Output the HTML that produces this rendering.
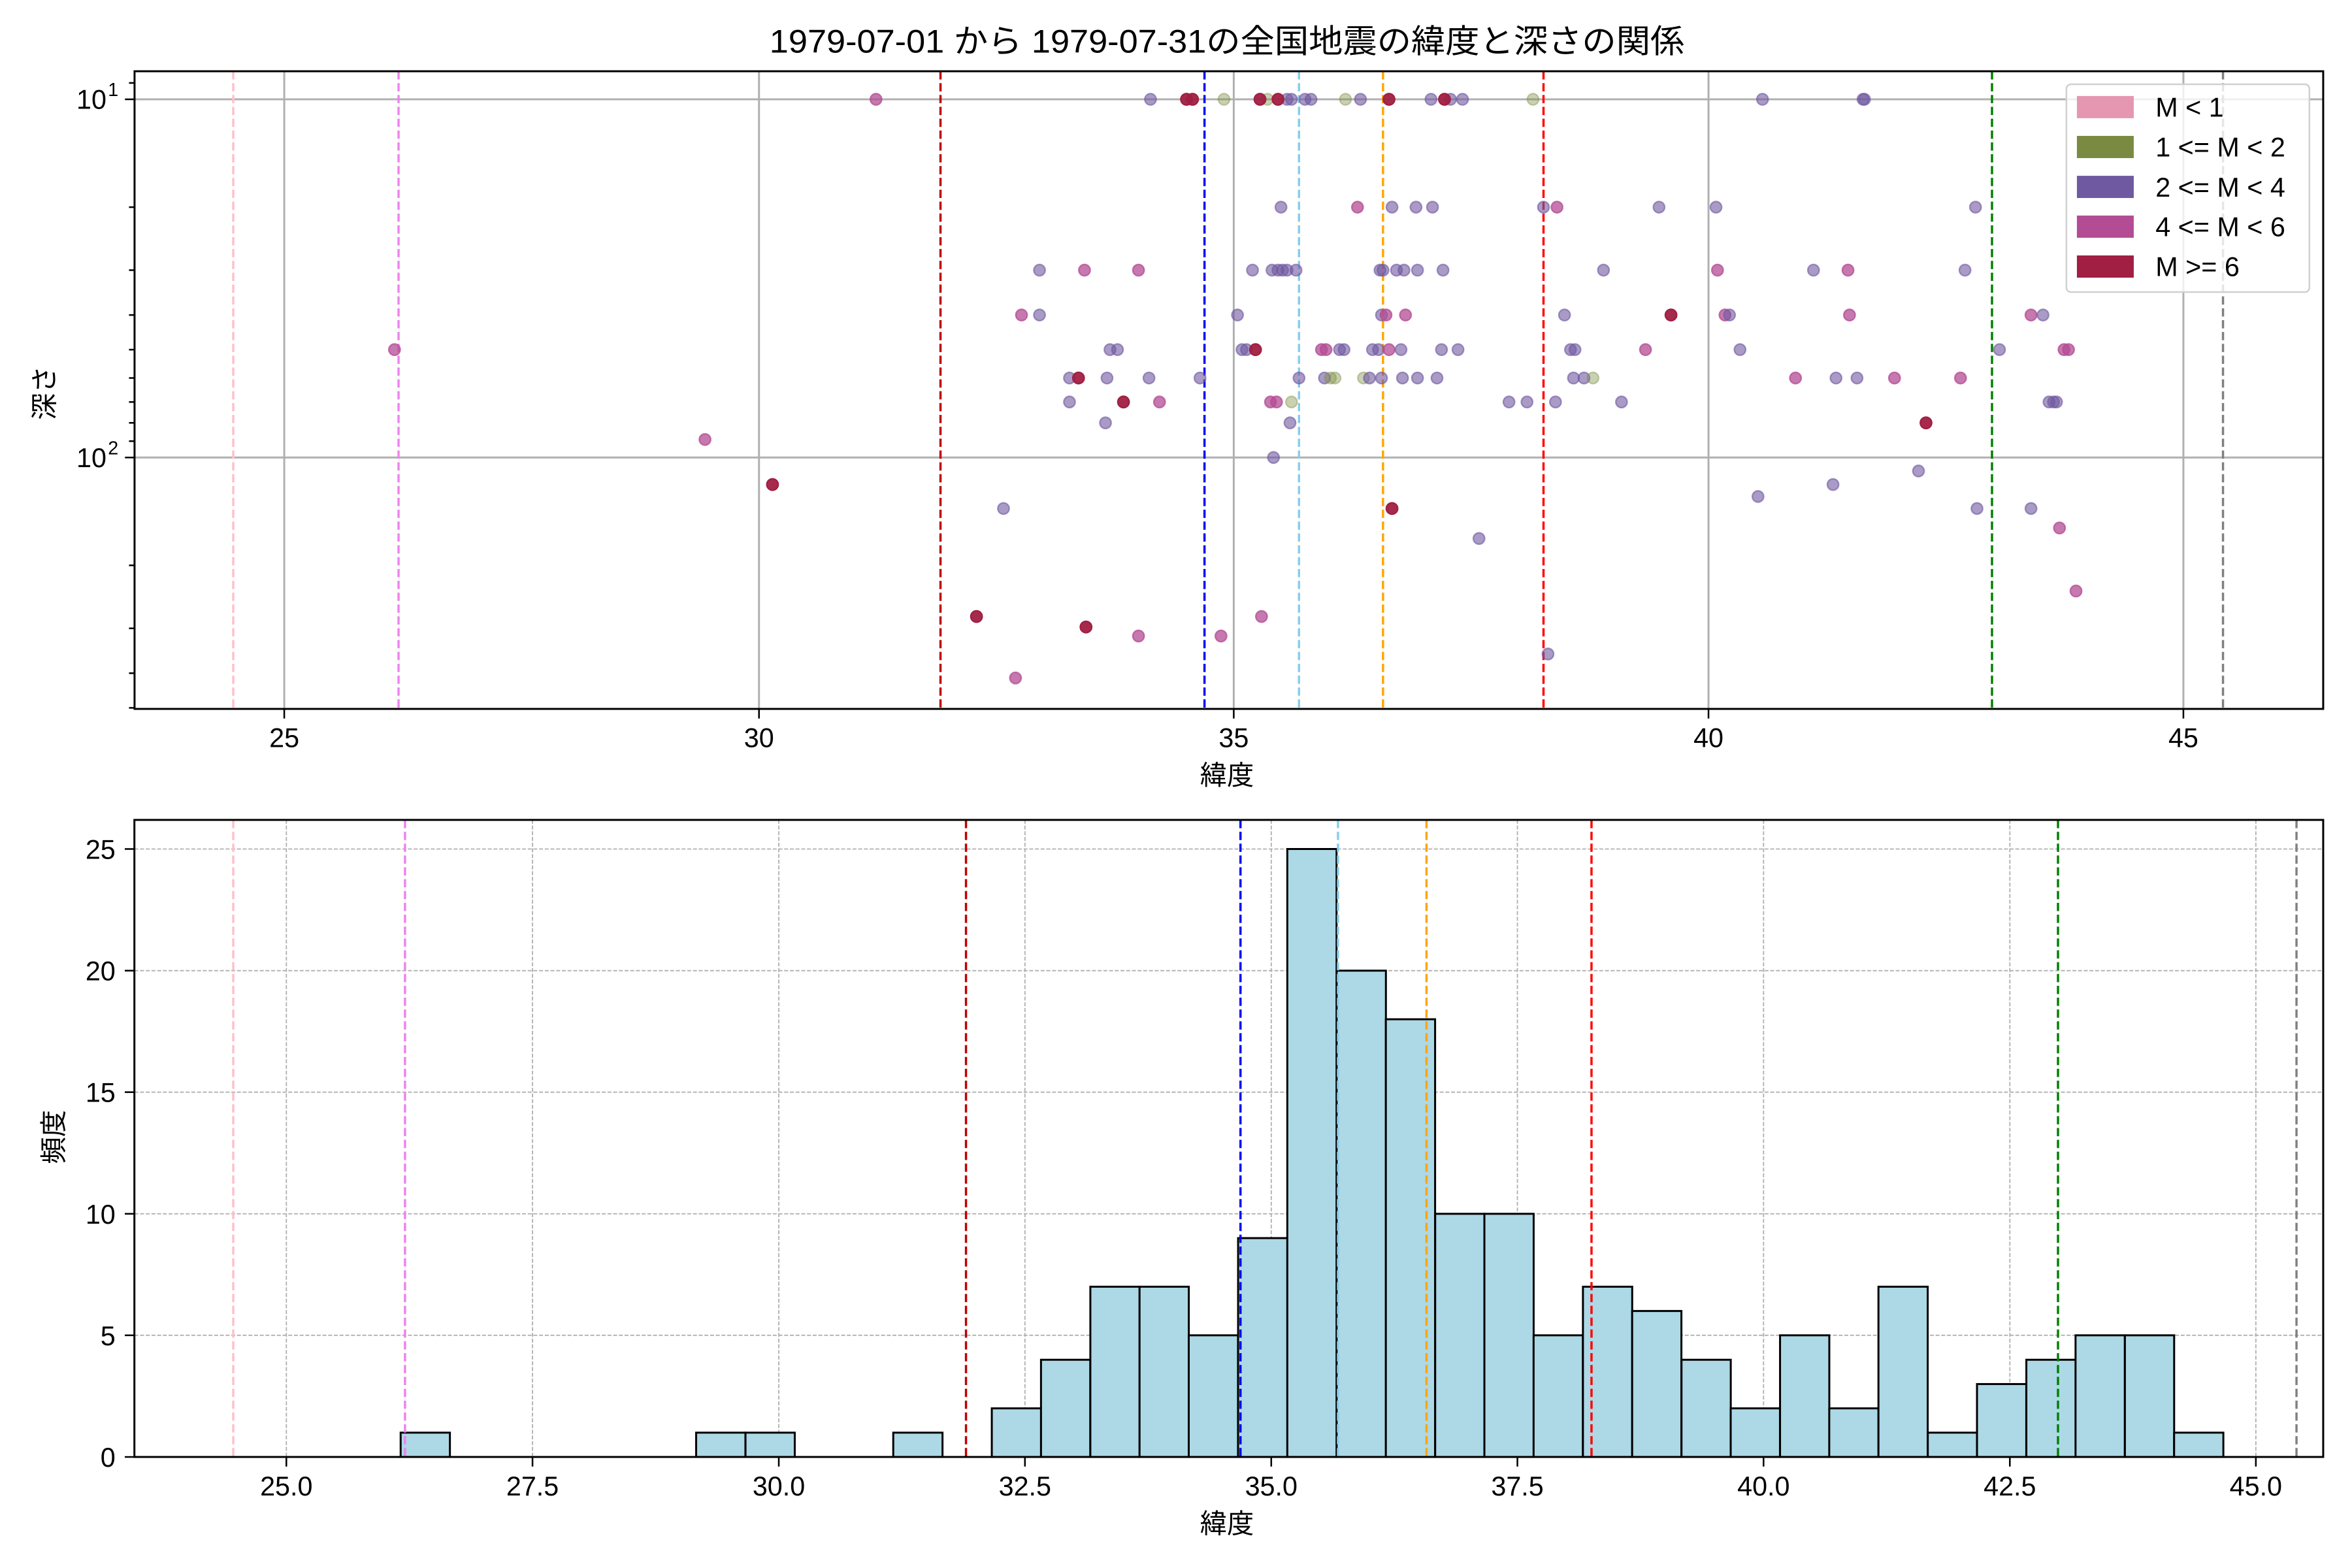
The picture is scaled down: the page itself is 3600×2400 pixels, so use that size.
<!DOCTYPE html>
<html><head><meta charset="utf-8"><style>
html,body{margin:0;padding:0;background:#fff;}
svg{display:block;}
text{font-family:"Liberation Sans","Noto Sans CJK JP",sans-serif;fill:#000;}
.p{fill:#6f59a0;fill-opacity:.6;stroke:#6f59a0;stroke-opacity:.6;stroke-width:1}
.m{fill:#b34c94;fill-opacity:.75;stroke:#b34c94;stroke-opacity:.75;stroke-width:1}
.c{fill:#a01f42;fill-opacity:.95;stroke:#a01f42;stroke-width:1}
.o{fill:#7a8b41;fill-opacity:.4;stroke:#7a8b41;stroke-opacity:.4;stroke-width:1}
.g1{stroke:#b0b0b0;stroke-width:1.3}
.g2{stroke:#b0b0b0;stroke-width:0.8;stroke-dasharray:2.6,1.2}
.v{stroke-width:1.5;stroke-dasharray:5.5,2.4;fill:none}
.bar{fill:#add8e6;stroke:#000;stroke-width:1.3}
.t{font-size:18px}
</style></head><body>
<svg width="3600" height="2400" viewBox="0 0 1568 1045.33" preserveAspectRatio="none" xmlns="http://www.w3.org/2000/svg">
<rect x="0" y="0" width="1568" height="1046" fill="#fff"/>
<text x="818" y="35" font-size="21.8" text-anchor="middle" textLength="610" lengthAdjust="spacingAndGlyphs">1979-07-01 から 1979-07-31の全国地震の緯度と深さの関係</text>

<!-- ===== TOP AXES ===== -->
<g>
<line class="g1" x1="189.5" y1="47.5" x2="189.5" y2="472.6"/>
<line class="g1" x1="506" y1="47.5" x2="506" y2="472.6"/>
<line class="g1" x1="822.5" y1="47.5" x2="822.5" y2="472.6"/>
<line class="g1" x1="1139" y1="47.5" x2="1139" y2="472.6"/>
<line class="g1" x1="1455.6" y1="47.5" x2="1455.6" y2="472.6"/>
<line class="g1" x1="89.7" y1="66.2" x2="1548.8" y2="66.2"/>
<line class="g1" x1="89.7" y1="305" x2="1548.8" y2="305"/>
</g>
<g>
<line class="v" stroke="#ffc0cb" x1="155.5" y1="47.5" x2="155.5" y2="472.6"/>
<line class="v" stroke="#ee82ee" x1="265.7" y1="47.5" x2="265.7" y2="472.6"/>
<line class="v" stroke="#c00000" x1="627" y1="47.5" x2="627" y2="472.6"/>
<line class="v" stroke="#0000ff" x1="803" y1="47.5" x2="803" y2="472.6"/>
<line class="v" stroke="#87ceeb" x1="866" y1="47.5" x2="866" y2="472.6"/>
<line class="v" stroke="#ffa500" x1="922" y1="47.5" x2="922" y2="472.6"/>
<line class="v" stroke="#ff0000" x1="1029" y1="47.5" x2="1029" y2="472.6"/>
<line class="v" stroke="#008000" x1="1328" y1="47.5" x2="1328" y2="472.6"/>
<line class="v" stroke="#808080" x1="1482" y1="47.5" x2="1482" y2="472.6"/>
</g>
<g>
<!-- row 66.2 -->
<circle class="m" cx="584" cy="66.2" r="3.8"/>
<circle class="p" cx="767" cy="66.2" r="3.8"/>
<circle class="o" cx="816" cy="66.2" r="3.8"/>
<circle class="o" cx="845" cy="66.2" r="3.8"/>
<circle class="p" cx="858" cy="66.2" r="3.8"/>
<circle class="p" cx="861" cy="66.2" r="3.8"/>
<circle class="p" cx="870" cy="66.2" r="3.8"/>
<circle class="p" cx="874" cy="66.2" r="3.8"/>
<circle class="o" cx="897" cy="66.2" r="3.8"/>
<circle class="p" cx="907" cy="66.2" r="3.8"/>
<circle class="p" cx="954" cy="66.2" r="3.8"/>
<circle class="p" cx="967" cy="66.2" r="3.8"/>
<circle class="p" cx="975" cy="66.2" r="3.8"/>
<circle class="o" cx="1022" cy="66.2" r="3.8"/>
<circle class="p" cx="1175" cy="66.2" r="3.8"/>
<circle class="p" cx="1242" cy="66.2" r="3.8"/>
<circle class="p" cx="1243" cy="66.2" r="3.8"/>
<circle class="c" cx="791" cy="66.2" r="3.8"/>
<circle class="c" cx="795" cy="66.2" r="3.8"/>
<circle class="c" cx="840" cy="66.2" r="3.8"/>
<circle class="c" cx="852" cy="66.2" r="3.8"/>
<circle class="c" cx="926" cy="66.2" r="3.8"/>
<circle class="c" cx="963" cy="66.2" r="3.8"/>
<!-- row 138 -->
<circle class="p" cx="854" cy="138.1" r="3.8"/>
<circle class="m" cx="905" cy="138.1" r="3.8"/>
<circle class="p" cx="928" cy="138.1" r="3.8"/>
<circle class="p" cx="944" cy="138.1" r="3.8"/>
<circle class="p" cx="955" cy="138.1" r="3.8"/>
<circle class="p" cx="1029" cy="138.1" r="3.8"/>
<circle class="m" cx="1038" cy="138.1" r="3.8"/>
<circle class="p" cx="1106" cy="138.1" r="3.8"/>
<circle class="p" cx="1144" cy="138.1" r="3.8"/>
<circle class="p" cx="1317" cy="138.1" r="3.8"/>
<!-- row 180 -->
<circle class="p" cx="693" cy="180.1" r="3.8"/>
<circle class="m" cx="723" cy="180.1" r="3.8"/>
<circle class="m" cx="759" cy="180.1" r="3.8"/>
<circle class="p" cx="835" cy="180.1" r="3.8"/>
<circle class="p" cx="848" cy="180.1" r="3.8"/>
<circle class="p" cx="852" cy="180.1" r="3.8"/>
<circle class="p" cx="855" cy="180.1" r="3.8"/>
<circle class="p" cx="858" cy="180.1" r="3.8"/>
<circle class="p" cx="864" cy="180.1" r="3.8"/>
<circle class="p" cx="920" cy="180.1" r="3.8"/>
<circle class="p" cx="922" cy="180.1" r="3.8"/>
<circle class="p" cx="931" cy="180.1" r="3.8"/>
<circle class="p" cx="936" cy="180.1" r="3.8"/>
<circle class="p" cx="945" cy="180.1" r="3.8"/>
<circle class="p" cx="962" cy="180.1" r="3.8"/>
<circle class="p" cx="1069" cy="180.1" r="3.8"/>
<circle class="m" cx="1145" cy="180.1" r="3.8"/>
<circle class="p" cx="1209" cy="180.1" r="3.8"/>
<circle class="m" cx="1232" cy="180.1" r="3.8"/>
<circle class="p" cx="1310" cy="180.1" r="3.8"/>
<!-- row 210 -->
<circle class="m" cx="681" cy="210" r="3.8"/>
<circle class="p" cx="693" cy="210" r="3.8"/>
<circle class="p" cx="825" cy="210" r="3.8"/>
<circle class="p" cx="921" cy="210" r="3.8"/>
<circle class="m" cx="924" cy="210" r="3.8"/>
<circle class="m" cx="937" cy="210" r="3.8"/>
<circle class="p" cx="1043" cy="210" r="3.8"/>
<circle class="c" cx="1114" cy="210" r="3.8"/>
<circle class="m" cx="1150" cy="210" r="3.8"/>
<circle class="p" cx="1153" cy="210" r="3.8"/>
<circle class="m" cx="1233" cy="210" r="3.8"/>
<circle class="m" cx="1354" cy="210" r="3.8"/>
<circle class="p" cx="1362" cy="210" r="3.8"/>
<!-- row 233 -->
<circle class="m" cx="263" cy="233.1" r="3.8"/>
<circle class="p" cx="740" cy="233.1" r="3.8"/>
<circle class="p" cx="745" cy="233.1" r="3.8"/>
<circle class="p" cx="828" cy="233.1" r="3.8"/>
<circle class="p" cx="831" cy="233.1" r="3.8"/>
<circle class="c" cx="837" cy="233.1" r="3.8"/>
<circle class="m" cx="881" cy="233.1" r="3.8"/>
<circle class="m" cx="884" cy="233.1" r="3.8"/>
<circle class="p" cx="893" cy="233.1" r="3.8"/>
<circle class="p" cx="896" cy="233.1" r="3.8"/>
<circle class="p" cx="915" cy="233.1" r="3.8"/>
<circle class="p" cx="919" cy="233.1" r="3.8"/>
<circle class="m" cx="926" cy="233.1" r="3.8"/>
<circle class="p" cx="934" cy="233.1" r="3.8"/>
<circle class="p" cx="961" cy="233.1" r="3.8"/>
<circle class="p" cx="972" cy="233.1" r="3.8"/>
<circle class="p" cx="1047" cy="233.1" r="3.8"/>
<circle class="p" cx="1050" cy="233.1" r="3.8"/>
<circle class="m" cx="1097" cy="233.1" r="3.8"/>
<circle class="p" cx="1160" cy="233.1" r="3.8"/>
<circle class="p" cx="1333" cy="233.1" r="3.8"/>
<circle class="m" cx="1376" cy="233.1" r="3.8"/>
<circle class="m" cx="1379" cy="233.1" r="3.8"/>
<!-- row 252 -->
<circle class="p" cx="713" cy="252" r="3.8"/>
<circle class="c" cx="719" cy="252" r="3.8"/>
<circle class="p" cx="738" cy="252" r="3.8"/>
<circle class="p" cx="766" cy="252" r="3.8"/>
<circle class="p" cx="800" cy="252" r="3.8"/>
<circle class="p" cx="866" cy="252" r="3.8"/>
<circle class="p" cx="883" cy="252" r="3.8"/>
<circle class="o" cx="887" cy="252" r="3.8"/>
<circle class="o" cx="890" cy="252" r="3.8"/>
<circle class="o" cx="909" cy="252" r="3.8"/>
<circle class="p" cx="913" cy="252" r="3.8"/>
<circle class="p" cx="921" cy="252" r="3.8"/>
<circle class="p" cx="935" cy="252" r="3.8"/>
<circle class="p" cx="945" cy="252" r="3.8"/>
<circle class="p" cx="958" cy="252" r="3.8"/>
<circle class="p" cx="1049" cy="252" r="3.8"/>
<circle class="p" cx="1056" cy="252" r="3.8"/>
<circle class="o" cx="1062" cy="252" r="3.8"/>
<circle class="m" cx="1197" cy="252" r="3.8"/>
<circle class="p" cx="1224" cy="252" r="3.8"/>
<circle class="p" cx="1238" cy="252" r="3.8"/>
<circle class="m" cx="1263" cy="252" r="3.8"/>
<circle class="m" cx="1307" cy="252" r="3.8"/>
<!-- row 268 -->
<circle class="p" cx="713" cy="268" r="3.8"/>
<circle class="c" cx="749" cy="268" r="3.8"/>
<circle class="m" cx="773" cy="268" r="3.8"/>
<circle class="m" cx="847" cy="268" r="3.8"/>
<circle class="m" cx="851" cy="268" r="3.8"/>
<circle class="o" cx="861" cy="268" r="3.8"/>
<circle class="p" cx="1006" cy="268" r="3.8"/>
<circle class="p" cx="1018" cy="268" r="3.8"/>
<circle class="p" cx="1037" cy="268" r="3.8"/>
<circle class="p" cx="1081" cy="268" r="3.8"/>
<circle class="p" cx="1366" cy="268" r="3.8"/>
<circle class="p" cx="1369" cy="268" r="3.8"/>
<circle class="p" cx="1371" cy="268" r="3.8"/>
<!-- row 282 -->
<circle class="p" cx="737" cy="281.9" r="3.8"/>
<circle class="p" cx="860" cy="281.9" r="3.8"/>
<circle class="c" cx="1284" cy="281.9" r="3.8"/>
<!-- others -->
<circle class="m" cx="470" cy="293" r="3.8"/>
<circle class="p" cx="849" cy="305" r="3.8"/>
<circle class="p" cx="1279" cy="314" r="3.8"/>
<circle class="c" cx="515" cy="323" r="3.8"/>
<circle class="p" cx="1222" cy="323" r="3.8"/>
<circle class="p" cx="1172" cy="331" r="3.8"/>
<circle class="p" cx="669" cy="339" r="3.8"/>
<circle class="c" cx="928" cy="339" r="3.8"/>
<circle class="p" cx="1318" cy="339" r="3.8"/>
<circle class="p" cx="1354" cy="339" r="3.8"/>
<circle class="m" cx="1373" cy="352" r="3.8"/>
<circle class="p" cx="986" cy="359" r="3.8"/>
<circle class="m" cx="1384" cy="394" r="3.8"/>
<circle class="c" cx="651" cy="411" r="3.8"/>
<circle class="m" cx="841" cy="411" r="3.8"/>
<circle class="c" cx="724" cy="418" r="3.8"/>
<circle class="m" cx="759" cy="424" r="3.8"/>
<circle class="m" cx="814" cy="424" r="3.8"/>
<circle class="p" cx="1032" cy="436" r="3.8"/>
<circle class="m" cx="677" cy="452" r="3.8"/>
</g>
<!-- top spines & ticks -->
<rect x="89.7" y="47.5" width="1459.1" height="425.1" fill="none" stroke="#000" stroke-width="1.3"/>
<g stroke="#000" stroke-width="1.1">
<line x1="189.5" y1="472.6" x2="189.5" y2="479"/>
<line x1="506" y1="472.6" x2="506" y2="479"/>
<line x1="822.5" y1="472.6" x2="822.5" y2="479"/>
<line x1="1139" y1="472.6" x2="1139" y2="479"/>
<line x1="1455.6" y1="472.6" x2="1455.6" y2="479"/>
<line x1="83.3" y1="66.2" x2="89.7" y2="66.2"/>
<line x1="83.3" y1="305" x2="89.7" y2="305"/>
<line x1="86" y1="55.3" x2="89.7" y2="55.3"/>
<line x1="86" y1="138.1" x2="89.7" y2="138.1"/>
<line x1="86" y1="180.1" x2="89.7" y2="180.1"/>
<line x1="86" y1="210" x2="89.7" y2="210"/>
<line x1="86" y1="233.1" x2="89.7" y2="233.1"/>
<line x1="86" y1="252" x2="89.7" y2="252"/>
<line x1="86" y1="268" x2="89.7" y2="268"/>
<line x1="86" y1="281.9" x2="89.7" y2="281.9"/>
<line x1="86" y1="294.1" x2="89.7" y2="294.1"/>
<line x1="86" y1="376.9" x2="89.7" y2="376.9"/>
<line x1="86" y1="418.9" x2="89.7" y2="418.9"/>
<line x1="86" y1="448.8" x2="89.7" y2="448.8"/>
<line x1="86" y1="471.9" x2="89.7" y2="471.9"/>
</g>
<g class="t" text-anchor="middle">
<text x="189.5" y="498">25</text>
<text x="506" y="498">30</text>
<text x="822.5" y="498">35</text>
<text x="1139" y="498">40</text>
<text x="1455.6" y="498">45</text>
</g>
<text x="71" y="72.5" class="t" text-anchor="end">10</text>
<text x="72" y="64" font-size="12.5">1</text>
<text x="71" y="311.5" class="t" text-anchor="end">10</text>
<text x="72" y="303" font-size="12.5">2</text>
<text x="818" y="523" class="t" text-anchor="middle">緯度</text>
<text transform="translate(36,262) rotate(-90)" class="t" text-anchor="middle">深さ</text>

<!-- legend -->
<rect x="1377.6" y="56.2" width="162" height="138.5" rx="3" fill="#fff" fill-opacity="0.8" stroke="#d0d0d0" stroke-width="1.1"/>
<rect x="1384.6" y="64" width="37.9" height="14.8" fill="#e597b2"/>
<rect x="1384.6" y="90.6" width="37.9" height="14.8" fill="#7a8b41"/>
<rect x="1384.6" y="117.2" width="37.9" height="14.8" fill="#6f59a0"/>
<rect x="1384.6" y="143.7" width="37.9" height="14.8" fill="#b34c94"/>
<rect x="1384.6" y="170.3" width="37.9" height="14.8" fill="#a01f42"/>
<g class="t">
<text x="1437" y="77.8">M &lt; 1</text>
<text x="1437" y="104.4">1 &lt;= M &lt; 2</text>
<text x="1437" y="131">2 &lt;= M &lt; 4</text>
<text x="1437" y="157.5">4 &lt;= M &lt; 6</text>
<text x="1437" y="184.1">M &gt;= 6</text>
</g>

<!-- ===== BOTTOM AXES ===== -->
<g>
<line class="g2" x1="190.9" y1="546.6" x2="190.9" y2="971.3"/>
<line class="g2" x1="355" y1="546.6" x2="355" y2="971.3"/>
<line class="g2" x1="519.2" y1="546.6" x2="519.2" y2="971.3"/>
<line class="g2" x1="683.3" y1="546.6" x2="683.3" y2="971.3"/>
<line class="g2" x1="847.5" y1="546.6" x2="847.5" y2="971.3"/>
<line class="g2" x1="1011.6" y1="546.6" x2="1011.6" y2="971.3"/>
<line class="g2" x1="1175.7" y1="546.6" x2="1175.7" y2="971.3"/>
<line class="g2" x1="1339.9" y1="546.6" x2="1339.9" y2="971.3"/>
<line class="g2" x1="1503.9" y1="546.6" x2="1503.9" y2="971.3"/>
<line class="g2" x1="89.6" y1="890.2" x2="1548.8" y2="890.2"/>
<line class="g2" x1="89.6" y1="809.2" x2="1548.8" y2="809.2"/>
<line class="g2" x1="89.6" y1="728.1" x2="1548.8" y2="728.1"/>
<line class="g2" x1="89.6" y1="647.1" x2="1548.8" y2="647.1"/>
<line class="g2" x1="89.6" y1="566" x2="1548.8" y2="566"/>
</g>
<g>
<rect class="bar" x="267.1" y="955.1" width="32.84" height="16.2"/>
<rect class="bar" x="464.1" y="955.1" width="32.84" height="16.2"/>
<rect class="bar" x="497" y="955.1" width="32.84" height="16.2"/>
<rect class="bar" x="595.5" y="955.1" width="32.84" height="16.2"/>
<rect class="bar" x="661.2" y="938.9" width="32.84" height="32.4"/>
<rect class="bar" x="694" y="906.5" width="32.84" height="64.8"/>
<rect class="bar" x="726.9" y="857.8" width="32.84" height="113.5"/>
<rect class="bar" x="759.7" y="857.8" width="32.84" height="113.5"/>
<rect class="bar" x="792.5" y="890.2" width="32.84" height="81.1"/>
<rect class="bar" x="825.4" y="825.4" width="32.84" height="145.9"/>
<rect class="bar" x="858.2" y="566" width="32.84" height="405.3"/>
<rect class="bar" x="891.1" y="647.1" width="32.84" height="324.2"/>
<rect class="bar" x="923.9" y="679.5" width="32.84" height="291.8"/>
<rect class="bar" x="956.8" y="809.2" width="32.84" height="162.1"/>
<rect class="bar" x="989.6" y="809.2" width="32.84" height="162.1"/>
<rect class="bar" x="1022.4" y="890.2" width="32.84" height="81.1"/>
<rect class="bar" x="1055.3" y="857.8" width="32.84" height="113.5"/>
<rect class="bar" x="1088.1" y="874" width="32.84" height="97.3"/>
<rect class="bar" x="1121" y="906.5" width="32.84" height="64.8"/>
<rect class="bar" x="1153.8" y="938.9" width="32.84" height="32.4"/>
<rect class="bar" x="1186.7" y="890.2" width="32.84" height="81.1"/>
<rect class="bar" x="1219.5" y="938.9" width="32.84" height="32.4"/>
<rect class="bar" x="1252.3" y="857.8" width="32.84" height="113.5"/>
<rect class="bar" x="1285.2" y="955.1" width="32.84" height="16.2"/>
<rect class="bar" x="1318" y="922.7" width="32.84" height="48.6"/>
<rect class="bar" x="1350.9" y="906.5" width="32.84" height="64.8"/>
<rect class="bar" x="1383.7" y="890.2" width="32.84" height="81.1"/>
<rect class="bar" x="1416.6" y="890.2" width="32.84" height="81.1"/>
<rect class="bar" x="1449.4" y="955.1" width="32.84" height="16.2"/>
</g>
<g>
<line class="v" stroke="#ffc0cb" x1="155.5" y1="546.6" x2="155.5" y2="971.3"/>
<line class="v" stroke="#ee82ee" x1="270" y1="546.6" x2="270" y2="971.3"/>
<line class="v" stroke="#c00000" x1="644" y1="546.6" x2="644" y2="971.3"/>
<line class="v" stroke="#0000ff" x1="827" y1="546.6" x2="827" y2="971.3"/>
<line class="v" stroke="#87ceeb" x1="892" y1="546.6" x2="892" y2="971.3"/>
<line class="v" stroke="#ffa500" x1="951" y1="546.6" x2="951" y2="971.3"/>
<line class="v" stroke="#ff0000" x1="1061" y1="546.6" x2="1061" y2="971.3"/>
<line class="v" stroke="#008000" x1="1372" y1="546.6" x2="1372" y2="971.3"/>
<line class="v" stroke="#808080" x1="1531" y1="546.6" x2="1531" y2="971.3"/>
</g>
<rect x="89.6" y="546.6" width="1459.2" height="424.7" fill="none" stroke="#000" stroke-width="1.3"/>
<g stroke="#000" stroke-width="1.1">
<line x1="190.9" y1="971.3" x2="190.9" y2="977.7"/>
<line x1="355" y1="971.3" x2="355" y2="977.7"/>
<line x1="519.2" y1="971.3" x2="519.2" y2="977.7"/>
<line x1="683.3" y1="971.3" x2="683.3" y2="977.7"/>
<line x1="847.5" y1="971.3" x2="847.5" y2="977.7"/>
<line x1="1011.6" y1="971.3" x2="1011.6" y2="977.7"/>
<line x1="1175.7" y1="971.3" x2="1175.7" y2="977.7"/>
<line x1="1339.9" y1="971.3" x2="1339.9" y2="977.7"/>
<line x1="1503.9" y1="971.3" x2="1503.9" y2="977.7"/>
<line x1="83.2" y1="971.3" x2="89.6" y2="971.3"/>
<line x1="83.2" y1="890.2" x2="89.6" y2="890.2"/>
<line x1="83.2" y1="809.2" x2="89.6" y2="809.2"/>
<line x1="83.2" y1="728.1" x2="89.6" y2="728.1"/>
<line x1="83.2" y1="647.1" x2="89.6" y2="647.1"/>
<line x1="83.2" y1="566" x2="89.6" y2="566"/>
</g>
<g class="t" text-anchor="middle">
<text x="190.9" y="997">25.0</text>
<text x="355" y="997">27.5</text>
<text x="519.2" y="997">30.0</text>
<text x="683.3" y="997">32.5</text>
<text x="847.5" y="997">35.0</text>
<text x="1011.6" y="997">37.5</text>
<text x="1175.7" y="997">40.0</text>
<text x="1339.9" y="997">42.5</text>
<text x="1503.9" y="997">45.0</text>
</g>
<g class="t" text-anchor="end">
<text x="77" y="977.8">0</text>
<text x="77" y="896.7">5</text>
<text x="77" y="815.7">10</text>
<text x="77" y="734.6">15</text>
<text x="77" y="653.6">20</text>
<text x="77" y="572.5">25</text>
</g>
<text x="818" y="1022" class="t" text-anchor="middle">緯度</text>
<text transform="translate(42,758) rotate(-90)" class="t" text-anchor="middle">頻度</text>
</svg>
</body></html>
